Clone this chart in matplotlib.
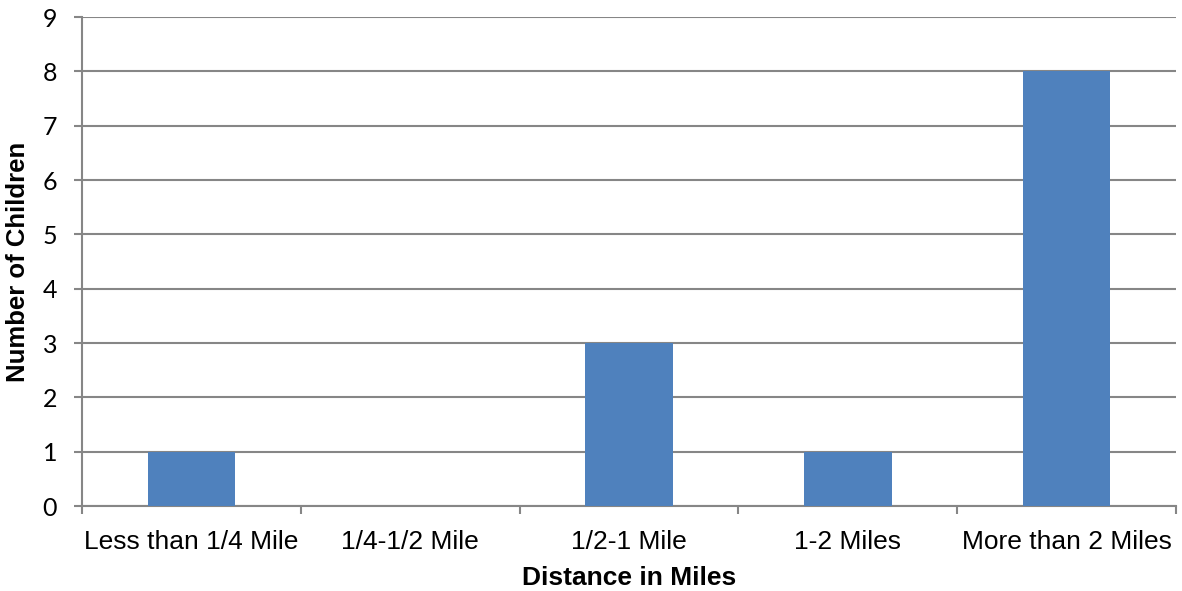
import matplotlib.pyplot as plt
import numpy as np

plt.rcParams['font.family'] = ['Liberation Sans', 'DejaVu Sans']

# distancia de casa a la escuela
categorias = ['Less than 1/4 Mile', '1/4-1/2 Mile', '1/2-1 Mile', '1-2 Miles', 'More than 2 Miles']
ninos = [1, 0, 3, 1, 8]

gris = '#868686'

fig = plt.figure(figsize=(11.82, 5.91), dpi=100)
ax = fig.add_axes([0.0694, 0.1438, 0.9256, 0.8274])

x = np.arange(len(categorias))
ax.bar(x, ninos, width=0.4, color='#4F81BD', zorder=3)

ax.set_xlim(-0.5, len(categorias) - 0.5)
ax.set_ylim(0, 9)
ax.set_yticks(range(10))
ax.grid(axis='y', color=gris, linewidth=1.5, zorder=0)

# etiquetas centradas, ticks en los limites entre categorias
ax.set_xticks(x)
ax.set_xticklabels(categorias, fontsize=19)
ax.set_xticks(np.arange(-0.5, len(categorias)), minor=True)
ax.tick_params(axis='x', which='major', length=0, pad=17)
ax.tick_params(axis='x', which='minor', length=6, width=1.5, color=gris)
ax.tick_params(axis='y', length=6, width=1.5, color=gris, pad=12)
for t in ax.get_yticklabels():
    t.set_family(['Lato', 'DejaVu Sans'])
    t.set_fontsize(18)

for lado in ['top', 'right']:
    ax.spines[lado].set_visible(False)
for lado in ['left', 'bottom']:
    ax.spines[lado].set_color(gris)
    ax.spines[lado].set_linewidth(1.5)

ax.set_xlabel('Distance in Miles', fontsize=19, fontweight='bold', labelpad=9)
ax.set_ylabel('Number of Children', fontsize=18.5, fontweight='bold')
ax.yaxis.set_label_coords(-0.0475, 0.5)

fig.savefig('out.png', dpi=100)
